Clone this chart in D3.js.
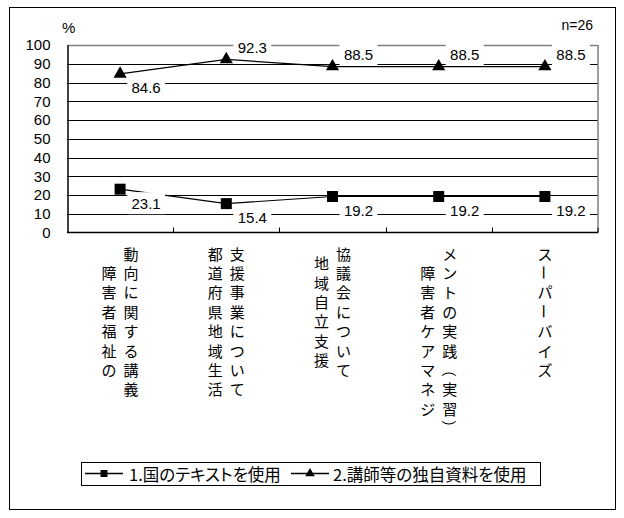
<!DOCTYPE html>
<html>
<head>
<meta charset="utf-8">
<script src="https://cdn.jsdelivr.net/npm/d3@7"></script>
<style>
  body { margin: 0; background: #fff; }
  text { font-family: "Liberation Sans", Arial, "Noto Sans CJK JP", sans-serif; }
  .jp { font-family: "Noto Sans CJK JP", sans-serif; font-feature-settings: "palt"; }
</style>
</head>
<body>
<div id="chart"></div>
<script>
// categories, each one split into its vertical text columns (left column first)
const categories = ["cat1", "cat2", "cat3", "cat4", "cat5"]
const categoryColumns = [
  ["障害者福祉の", "動向に関する講義"],
  ["都道府県地域生活", "支援事業について"],
  ["地域自立支援", "協議会について"],
  ["障害者ケアマネジ", "メントの実践（実習）"],
  ["スーパーバイズ"]
]
const seriesNames = ["1.国のテキストを使用", "2.講師等の独自資料を使用"]
const nationalText = [23.1, 15.4, 19.2, 19.2, 19.2]
const ownMaterial = [84.6, 92.3, 88.5, 88.5, 88.5]
const yTicks = [0, 10, 20, 30, 40, 50, 60, 70, 80, 90, 100]
// which side of the point each value label sits on
const nationalLabelSide = ["below", "below", "below", "below", "below"]
const ownLabelSide = ["below", "above", "above", "above", "above"]

const W = 624, H = 518
const plot = {left: 67, right: 598, top: 45, bottom: 232.5}

const svg = d3.select("#chart").append("svg")
    .attr("width", W)
    .attr("height", H)

// outer frame
svg.append("rect")
    .attr("x", 9.5).attr("y", 7.5)
    .attr("width", 606).attr("height", 502)
    .attr("fill", "none").attr("stroke", "#000")

const x = d3.scaleBand()
    .domain(categories)
    .range([plot.left, plot.right])

const y = d3.scaleLinear()
    .domain([0, 100])
    .range([plot.bottom, plot.top])

// gridlines
svg.append("g").selectAll("line")
    .data(yTicks.filter(t => t > 0))
    .join("line")
    .attr("x1", plot.left).attr("x2", plot.right)
    .attr("y1", d => Math.round(y(d)) + 0.5).attr("y2", d => Math.round(y(d)) + 0.5)
    .attr("stroke", d => d === 100 ? "#808080" : "#000")
    .attr("stroke-width", d => d === 100 ? 1.5 : 1)

// right border of the plot area
svg.append("line")
    .attr("x1", plot.right).attr("x2", plot.right)
    .attr("y1", plot.top).attr("y2", plot.bottom)
    .attr("stroke", "#808080").attr("stroke-width", 1.5)

// y axis
const yAxis = d3.axisLeft(y).tickValues(yTicks).tickSize(0).tickPadding(17)
svg.append("g")
    .attr("transform", "translate(" + (plot.left + 0.5) + ",0)")
    .call(yAxis)
    .call(g => g.select(".domain").attr("stroke", "#000").attr("stroke-width", 1.5))
    .call(g => g.selectAll("text")
        .attr("font-size", 15)
        .attr("fill", "#000")
        .style("font-family", "'Liberation Sans', Arial, sans-serif"))

// x axis with inward ticks at the band edges
svg.append("line")
    .attr("x1", plot.left).attr("x2", plot.right)
    .attr("y1", plot.bottom).attr("y2", plot.bottom)
    .attr("stroke", "#000").attr("stroke-width", 1.5)
svg.append("g").selectAll("line")
    .data(categories.slice(1).concat(["end"]))
    .join("line")
    .attr("x1", d => d === "end" ? plot.right : Math.round(x(d)) + 0.5)
    .attr("x2", d => d === "end" ? plot.right : Math.round(x(d)) + 0.5)
    .attr("y1", plot.bottom - 5).attr("y2", plot.bottom)
    .attr("stroke", "#000")

svg.append("text")
    .attr("x", 62).attr("y", 27)
    .attr("dominant-baseline", "central")
    .attr("font-size", 15)
    .text("%")

svg.append("text")
    .attr("x", 593).attr("y", 25)
    .attr("text-anchor", "end")
    .attr("dominant-baseline", "central")
    .attr("font-size", 14)
    .text("n=26")

// vertical category labels; long mark and brackets are turned for vertical writing
const turned = new Set(["ー", "（", "）"])
const charStep = 19.4
const colGap = 22
const labelTop = 253

categoryColumns.forEach((cols, i) => {
  const cx = x(categories[i]) + x.bandwidth() / 2
  const longest = d3.max(cols, c => c.length)
  cols.forEach((col, j) => {
    const colX = cx + (j - (cols.length - 1) / 2) * colGap
    const offset = (longest - col.length) / 2
    const chars = Array.from(col)
    svg.append("g").selectAll("text")
        .data(chars)
        .join("text")
        .attr("class", "jp")
        .attr("transform", (d, k) => {
          const cy = labelTop + (k + offset) * charStep
          return "translate(" + colX + "," + cy + ")" + (turned.has(d) ? " rotate(90)" : "")
        })
        .attr("text-anchor", "middle")
        .attr("dominant-baseline", "central")
        .attr("font-size", 15)
        .style("font-feature-settings", "normal")
        .text(d => d)
  })
})

// series
const series = [
  {name: seriesNames[0], values: nationalText, sides: nationalLabelSide, symbol: d3.symbolSquare, size: 121},
  {name: seriesNames[1], values: ownMaterial, sides: ownLabelSide, symbol: d3.symbolTriangle, size: 75}
]

const line = d3.line()
    .x((d, i) => x(categories[i]) + x.bandwidth() / 2)
    .y(d => y(d))

series.forEach(s => {
  svg.append("path")
      .datum(s.values)
      .attr("d", line)
      .attr("fill", "none")
      .attr("stroke", "#000")
      .attr("stroke-width", 1.2)

  svg.append("g").selectAll("path")
      .data(s.values)
      .join("path")
      .attr("transform", (d, i) => "translate(" + (x(categories[i]) + x.bandwidth() / 2) + "," + y(d) + ")")
      .attr("d", d3.symbol().type(s.symbol).size(s.size))
      .attr("fill", "#000")
})

// value labels on white boxes
series.forEach(s => {
  const g = svg.append("g").selectAll("g")
      .data(s.values)
      .join("g")
      .attr("transform", (d, i) => {
        const lx = x(categories[i]) + x.bandwidth() / 2 + 26
        const ly = y(d) + (s.sides[i] === "above" ? -12 : 14)
        return "translate(" + lx + "," + ly + ")"
      })
  g.append("rect")
      .attr("x", -19).attr("y", -11)
      .attr("width", 38).attr("height", 22)
      .attr("fill", "#fff")
  g.append("text")
      .attr("text-anchor", "middle")
      .attr("dominant-baseline", "central")
      .attr("font-size", 15)
      .text(d => d.toFixed(1))
})

// legend
const legend = svg.append("g")
svg.append("rect")
    .attr("x", 81.5).attr("y", 462.5)
    .attr("width", 459).attr("height", 23)
    .attr("fill", "none").attr("stroke", "#000")

const legendItems = [
  {x0: 85, textX: 129, symbol: d3.symbolSquare, size: 49, name: seriesNames[0]},
  {x0: 291, textX: 333, symbol: d3.symbolTriangle, size: 40, name: seriesNames[1]}
]
legendItems.forEach(it => {
  legend.append("line")
      .attr("x1", it.x0).attr("x2", it.x0 + 38)
      .attr("y1", 473.5).attr("y2", 473.5)
      .attr("stroke", "#000").attr("stroke-width", 1.5)
  legend.append("path")
      .attr("transform", "translate(" + (it.x0 + 19) + ",473.5)")
      .attr("d", d3.symbol().type(it.symbol).size(it.size))
  legend.append("text")
      .attr("class", "jp")
      .attr("x", it.textX).attr("y", 474)
      .attr("dominant-baseline", "central")
      .attr("font-size", 16.5)
      .text(it.name)
})
</script>
</body>
</html>
